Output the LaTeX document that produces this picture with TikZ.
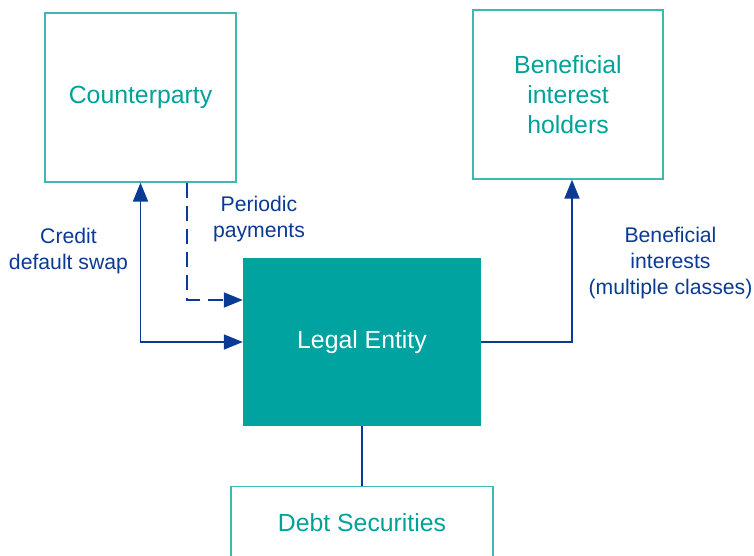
\documentclass[tikz,border=0pt]{standalone}
\usepackage{fontspec}
\setmainfont{Liberation Sans}
\usetikzlibrary{arrows.meta}
\definecolor{tealtext}{HTML}{00A19B}
\definecolor{tealline}{HTML}{3FB8B3}
\definecolor{tealfill}{HTML}{00A3A0}
\definecolor{navy}{HTML}{0B3A94}

\begin{document}
\begin{tikzpicture}[x=1pt,y=-1pt,
party/.style={draw=tealline,line width=1.3pt,text=tealtext,font=\fontsize{24.8}{30}\selectfont,align=center,inner sep=0pt},
flow/.style={navy,line width=1.8pt,-{Triangle[length=19pt,width=15pt]}},
tag/.style={text=navy,font=\fontsize{21.2}{26}\selectfont,align=center}]
\useasboundingbox (0,0) rectangle (754,555);
\node[party,minimum width=191pt,minimum height=169pt] (cp) at (140.5,97.5) {Counterparty};
\node[party,minimum width=190pt,minimum height=169pt] (bih) at (568,94.5) {Beneficial\\interest\\holders};
\node[fill=tealfill,text=white,font=\fontsize{24.8}{30}\selectfont,inner sep=0pt,minimum width=238pt,minimum height=168pt] (le) at (362,342) {Legal Entity};
\node[party,minimum width=262pt,minimum height=72pt,anchor=north] (ds) at (362,486) {Debt Securities};
\draw[flow,{Triangle[length=19pt,width=15pt]}-{Triangle[length=19pt,width=15pt]}] (cp.south) |- (le.west);
\draw[flow,dashed,dash pattern=on 15pt off 8pt] ([xshift=46.5pt]cp.south) |- ([yshift=42pt]le.west);
\draw[flow] (le.east) -| ([xshift=4pt]bih.south);
\draw[navy,line width=1.8pt] (le.south) -- (ds.north);
\node[tag] (cds) at (68.5,251) {Credit\\default swap};
\node[tag] (pp) at (259,219.5) {Periodic\\payments};
\node[tag] (bi) at (670.5,263) {Beneficial\\interests\\(multiple classes)};
\end{tikzpicture}
\end{document}
